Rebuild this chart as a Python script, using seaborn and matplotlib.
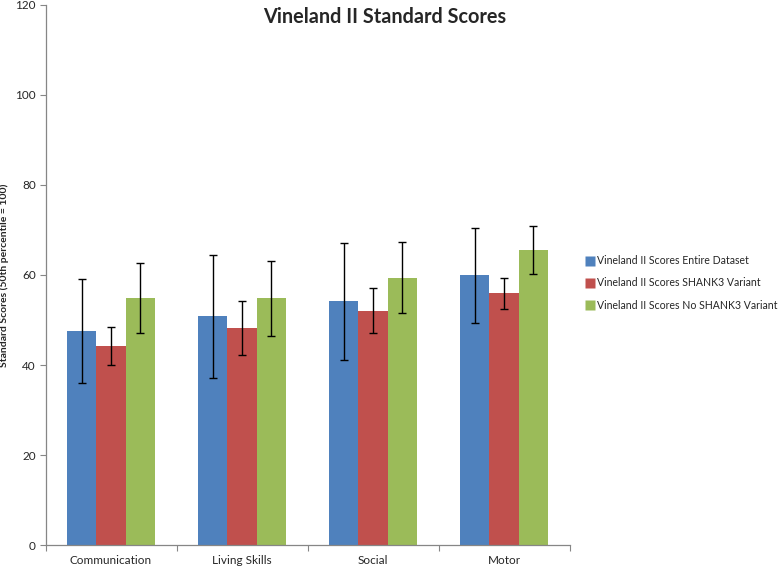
import matplotlib
matplotlib.use("Agg")
import matplotlib.pyplot as plt
import seaborn as sns
import pandas as pd
import numpy as np
from matplotlib.lines import Line2D
from matplotlib.ticker import FixedLocator

categories = ["Communication", "Living Skills", "Social", "Motor"]
series = ["Vineland II Scores Entire Dataset",
          "Vineland II Scores SHANK3 Variant",
          "Vineland II Scores No SHANK3 Variant"]
entire = [47.6, 50.8, 54.1, 59.9]
shank3 = [44.3, 48.2, 52.0, 55.9]
no_shank3 = [54.9, 54.8, 59.4, 65.6]
err_entire = [11.5, 13.6, 13.0, 10.6]
err_shank3 = [4.2, 6.0, 5.0, 3.5]
err_no_shank3 = [7.8, 8.3, 7.9, 5.3]
colors = ["#4F81BD", "#C0504D", "#9BBB59"]

rows = []
for s, vals, errs in zip(series, [entire, shank3, no_shank3],
                         [err_entire, err_shank3, err_no_shank3]):
    for c, v, e in zip(categories, vals, errs):
        rows.append({"Category": c, "Series": s, "Score": v, "Err": e})
df = pd.DataFrame(rows)

sns.set_style("white")
plt.rcParams["font.family"] = ["Lato", "DejaVu Sans"]

fig = plt.figure(figsize=(7.78, 5.67), dpi=100)
ax_w = (569.5 - 45.5)
ax = fig.add_axes([45.5 / 778, 1 - 545.3 / 567, ax_w / 778, (545.3 - 4.5) / 567])

sns.barplot(data=df, x="Category", y="Score", hue="Series", order=categories,
            hue_order=series, palette=colors, width=0.665, gap=0,
            saturation=1, errorbar=None, ax=ax, legend=False,
            edgecolor="none", linewidth=0)

# error bars from bar positions
for cont, s in zip(ax.containers, series):
    sub = df[df["Series"] == s].set_index("Category").loc[categories]
    xs = [p.get_x() + p.get_width() / 2 for p in cont.patches]
    ax.errorbar(xs, sub["Score"].values, yerr=sub["Err"].values, fmt="none",
                ecolor="black", elinewidth=1.0, capsize=3, capthick=1.0, zorder=5)

ax.set_ylim(0, 120)
ax.set_xlim(-0.5, len(categories) - 0.5)
ax.set_yticks(np.arange(0, 121, 20))
ax.tick_params(axis="y", labelsize=8.5, length=4, width=0.8, color="#868686",
               direction="out", left=True, pad=3)
ax.tick_params(axis="x", which="major", labelsize=8.5, length=0, pad=7)
ax.xaxis.set_minor_locator(FixedLocator(np.arange(-0.5, len(categories), 1.0)))
ax.tick_params(axis="x", which="minor", length=4, width=0.8, color="#868686",
               direction="out", bottom=True)
for sp in ["top", "right"]:
    ax.spines[sp].set_visible(False)
for sp in ["left", "bottom"]:
    ax.spines[sp].set_color("#868686")
    ax.spines[sp].set_linewidth(0.9)
ax.set_xlabel("")
ax.set_ylabel("Standard Scores (50th percentile = 100)", fontsize=7.5,
              fontweight="bold")
ax.yaxis.set_label_coords((9 - 45.5) / ax_w, 0.5)

fig.text(385 / 778, 1 - 17 / 567, "Vineland II Standard Scores", ha="center",
         va="center", fontsize=14.3, fontweight="bold")

handles = [Line2D([0], [0], marker="s", linestyle="none", markersize=6.5,
                  markerfacecolor=c, markeredgecolor="none") for c in colors]
fig.legend(handles, series, loc="center left",
           bbox_to_anchor=(580 / 778, 1 - 283 / 567), frameon=False,
           fontsize=7.6, handletextpad=0.2, labelspacing=1.05, handlelength=1.0,
           borderaxespad=0)

fig.savefig("out.png", dpi=100)
